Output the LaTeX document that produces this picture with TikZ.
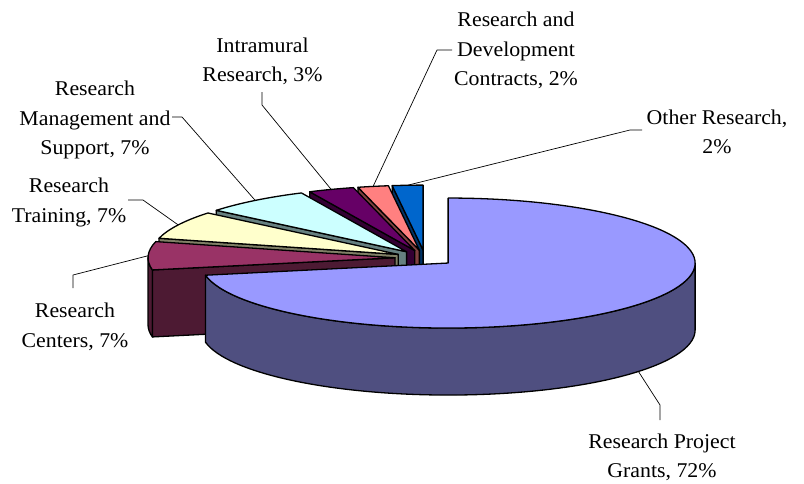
\documentclass[tikz,border=0pt]{standalone}
\usepackage{fontspec}
\setmainfont[FakeStretch=1.04]{Liberation Serif}
\usetikzlibrary{calc}
\definecolor{mainTop}{HTML}{9999FF}
\definecolor{mainSide}{HTML}{4F4F80}
\definecolor{marTop}{HTML}{993366}
\definecolor{marSide}{HTML}{4D1A33}
\definecolor{yelTop}{HTML}{FFFFCC}
\definecolor{yelSide}{HTML}{808066}
\definecolor{cyaTop}{HTML}{CCFFFF}
\definecolor{cyaSide}{HTML}{668080}
\definecolor{purTop}{HTML}{660066}
\definecolor{purSide}{HTML}{330033}
\definecolor{pinTop}{HTML}{FF8080}
\definecolor{pinSide}{HTML}{804040}
\definecolor{bluTop}{HTML}{0066CC}
\definecolor{bluSide}{HTML}{003366}
\newcommand\pietop[4]{\filldraw[slice, fill=#4] (#1) -- ($(#1)+(#2:247 and 65)$) arc[start angle=#2, end angle=#3, x radius=247, y radius=65] -- cycle;}
\newcommand\pierad[3]{\filldraw[slice, fill=#3] (#1) -- ($(#1)+(#2:247 and 65)$) -- ++(0,-67) -- ($(#1)+(0,-67)$) -- cycle;}
\newcommand\pieside[4]{\filldraw[slice, fill=#4] ($(#1)+(#2:247 and 65)$) arc[start angle=#2, end angle=#3, x radius=247, y radius=65] -- ++(0,-67) arc[start angle=#3, end angle=#2, x radius=247, y radius=65] -- cycle;}
\begin{document}
\begin{tikzpicture}[x=1pt,y=1pt,line join=round,
  slice/.style={draw=black, line width=1.3pt},
  leader/.style={draw=black, line width=0.7pt},
  lbl/.style={align=center, font=\fontsize{21}{29.5}\selectfont, inner sep=0pt}]
\useasboundingbox (0,0) rectangle (804,-483);
\coordinate (C0) at (425,-258);
% exploded slice centres
\coordinate (cBlu) at ($(C0)+(93.6:30 and 7.9)$);
\coordinate (cPin) at ($(C0)+(100.8:30 and 7.9)$);
\coordinate (cPur) at ($(C0)+(109.8:30 and 7.9)$);
\coordinate (cCya) at ($(C0)+(127.8:30 and 7.9)$);
\coordinate (cYel) at ($(C0)+(153:30 and 7.9)$);
\coordinate (cMar) at ($(C0)+(178.2:30 and 7.9)$);
\coordinate (cMain) at ($(C0)+(-39.6:30 and 7.9)$);
% slices, back to front
\pierad{cBlu}{97.2}{bluSide}
\pietop{cBlu}{90}{97.2}{bluTop}
\pierad{cPin}{104.4}{pinSide}
\pietop{cPin}{97.2}{104.4}{pinTop}
\pierad{cPur}{115.2}{purSide}
\pietop{cPur}{104.4}{115.2}{purTop}
\pierad{cCya}{140.4}{cyaSide}
\pietop{cCya}{115.2}{140.4}{cyaTop}
\pierad{cYel}{165.6}{yelSide}
\pietop{cYel}{140.4}{165.6}{yelTop}
\pieside{cMar}{180}{190.8}{marSide}
\pierad{cMar}{190.8}{marSide}
\pietop{cMar}{165.6}{190.8}{marTop}
\pieside{cMain}{190.8}{360}{mainSide}
\pietop{cMain}{190.8}{450}{mainTop}
% labels
\node[lbl] (lRD) at (516,-50.5) {Research and\\Development\\Contracts, 2\%};
\node[lbl] (lOther) at (717,-132) {Other Research,\\2\%};
\node[lbl] (lIntra) at (262.5,-61.5) {Intramural\\Research, 3\%};
\node[lbl] (lMgmt) at (95,-120) {Research\\Management and\\Support, 7\%};
\node[lbl] (lTrain) at (69,-202.5) {Research\\Training, 7\%};
\node[lbl] (lCent) at (75,-327) {Research\\Centers, 7\%};
\node[lbl] (lGrant) at (662,-457.5) {Research Project\\Grants, 72\%};
% leader anchors
\coordinate (aRD) at ($(cPin)+(100.8:247 and 65)$);
\coordinate (aOther) at ($(cBlu)+(93.6:247 and 65)$);
\coordinate (aIntra) at ($(cPur)+(109.8:247 and 65)$);
\coordinate (aMgmt) at ($(cCya)+(127.8:247 and 65)$);
\coordinate (aTrain) at ($(cYel)+(153:247 and 65)$);
\coordinate (aCent) at ($(cMar)+(178.2:247 and 65)$);
\coordinate (aGrant) at ($(cMain)+(-39.6:247 and 65)+(0,-67)$);
\coordinate (eRD) at (437,-50);    \coordinate (tRD) at (452,-50);
\coordinate (eOther) at (630,-130); \coordinate (tOther) at (642,-130);
\coordinate (eIntra) at (262,-105); \coordinate (tIntra) at (262,-92);
\coordinate (eMgmt) at (182,-117);  \coordinate (tMgmt) at (172,-117);
\coordinate (eTrain) at (143,-200); \coordinate (tTrain) at (128,-200);
\coordinate (eCent) at (73,-275);   \coordinate (tCent) at (73,-288);
\coordinate (eGrant) at (660,-405); \coordinate (tGrant) at (660,-420);
\draw[leader] (aRD) -- (eRD) -- (tRD);
\draw[leader] (aOther) -- (eOther) -- (tOther);
\draw[leader] (aIntra) -- (eIntra) -- (tIntra);
\draw[leader] (aMgmt) -- (eMgmt) -- (tMgmt);
\draw[leader] (aTrain) -- (eTrain) -- (tTrain);
\draw[leader] (aCent) -- (eCent) -- (tCent);
\draw[leader] (aGrant) -- (eGrant) -- (tGrant);
\end{tikzpicture}
\end{document}
